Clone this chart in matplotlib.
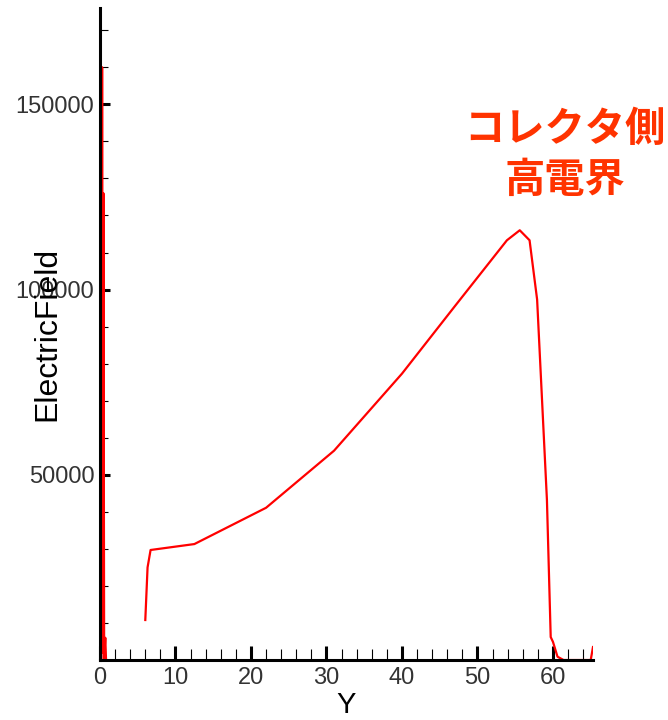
import numpy as np
import matplotlib
matplotlib.use('agg')
import matplotlib.pyplot as plt
from matplotlib.ticker import MultipleLocator

# values (NaN splits the curve into pieces)
pos = [0.2, 0.28, 0.36, 0.45, 0.55, 0.62, 0.7, 0.8,
       np.nan,
       6.0, 6.3, 6.7, 12.5, 22.0, 31.0, 40.0, 47.0, 53.9, 55.6, 56.9,
       57.9, 59.2, 59.7, 60.0, 60.6, 61.4, 65.0, 65.3]
efield = [0, 160000, 2000, 126000, 0, 3000, 6000, 0,
          np.nan,
          10800, 25000, 29700, 31300, 41100, 56500, 77300, 95500, 113300, 116000, 113300,
          97300, 43200, 6200, 4900, 900, 0, 0, 3500]

xticks = [0, 10, 20, 30, 40, 50, 60]
yticks = [50000, 100000, 150000]

fig = plt.figure(figsize=(6.68, 7.2), dpi=100)
ax = fig.add_axes([0.1497, 0.0833, 0.738, 0.9056])

ax.plot(pos, efield, color='#ff0000', lw=1.6, zorder=2)

ax.set_xlim(0, 65.3)
ax.set_ylim(0, 176000)

for s in ['top', 'right']:
    ax.spines[s].set_visible(False)
for s in ['left', 'bottom']:
    ax.spines[s].set_linewidth(2.2)
    ax.spines[s].set_zorder(3)

ax.set_xticks(xticks)
ax.set_yticks(yticks)
ax.xaxis.set_minor_locator(MultipleLocator(2))
ax.yaxis.set_minor_locator(MultipleLocator(10000))

lab_font = {'family': 'Liberation Sans', 'size': 17}
ax.set_xticklabels([str(v) for v in xticks], fontdict=lab_font, color='#333333')
ax.set_yticklabels([str(v) for v in yticks], fontdict=lab_font, color='#333333')

ax.tick_params(axis='x', which='major', direction='in', length=10, width=2.2, pad=5)
ax.tick_params(axis='x', which='minor', direction='in', length=8, width=0.8)
ax.tick_params(axis='y', which='major', direction='in', length=7, width=2.2, pad=4)
ax.tick_params(axis='y', which='minor', direction='in', length=6, width=0.8)

ax.set_xlabel('Y', fontsize=21, family='Liberation Sans')
ax.xaxis.set_label_coords(0.5, -0.047)
ax.set_ylabel('ElectricField', fontsize=23, family='Liberation Sans')
ax.yaxis.set_label_coords(-0.077, 0.5)

fig.text(0.846, 0.785, 'コレクタ側\n高電界', color='#ff3300', fontsize=29,
         fontweight='bold', family=['Noto Sans CJK JP', 'DejaVu Sans'],
         ha='center', va='center', linespacing=1.3)

plt.savefig('out.png', dpi=100)
plt.close()
